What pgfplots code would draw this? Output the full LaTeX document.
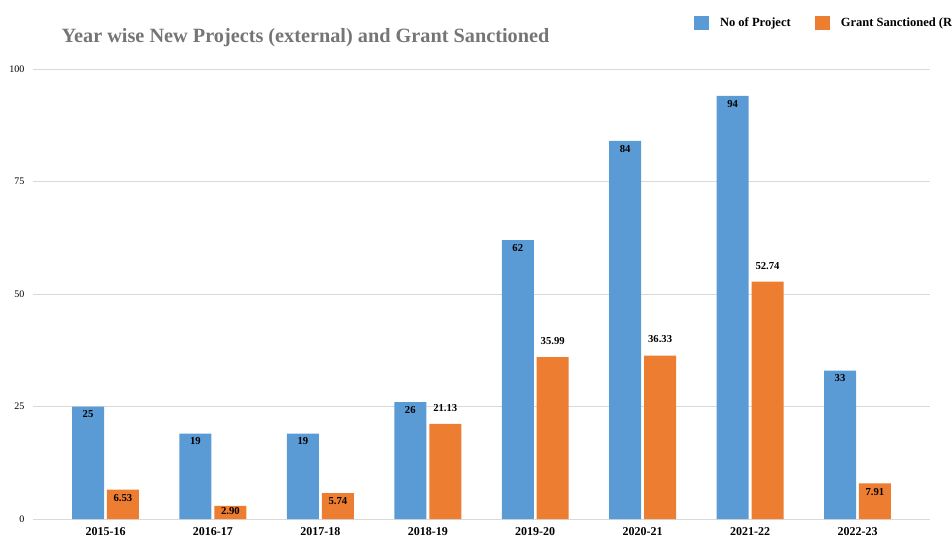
\documentclass[border=0pt]{standalone}
\usepackage{fontspec}
\setmainfont{Liberation Serif}
\usepackage{pgfplots}
\usepackage{pgfplotstable}
\pgfplotsset{compat=1.18}
\definecolor{barblue}{HTML}{5B9BD5}
\definecolor{barorange}{HTML}{ED7D31}
\definecolor{titlegray}{HTML}{757575}
\definecolor{gridgray}{HTML}{D9D9D9}
\definecolor{basegray}{HTML}{8C8C8C}
\pgfplotstableread{
x y dy
0 25 -6
1 19 -6
2 19 -6
3 26 -6
4 62 -6
5 84 -6
6 94 -6
7 33 -6
}\projects
\pgfplotstableread{
x y dy
0 6.53 -6
1 2.90 -4
2 5.74 -6
3 21.13 12
4 35.99 12
5 36.33 12
6 52.74 12
7 7.91 -6.5
}\grants
\begin{document}
\begin{tikzpicture}
\useasboundingbox (-24.75pt,-12.75pt) rectangle (689.25pt,389.25pt);
\clip (-24.75pt,-12.75pt) rectangle (689.25pt,389.25pt);
\begin{axis}[
  scale only axis,
  width=672.75pt, height=337.5pt,
  xmin=-0.675, xmax=7.675,
  ymin=0, ymax=100,
  ytick={0,25,50,75,100},
  xtick={0,...,7},
  xticklabels={2015-16,2016-17,2017-18,2018-19,2019-20,2020-21,2021-22,2022-23},
  /pgf/number format/assume math mode=true,
  axis line style={draw=none},
  major tick length=0pt,
  tick style={draw=none},
  ymajorgrids,
  major grid style={draw=gridgray, line width=0.7pt},
  extra y ticks={0},
  extra y tick labels={},
  extra y tick style={grid style={draw=basegray, line width=0.9pt}},
  yticklabel style={font=\fontsize{7.5}{9}\selectfont, text=black, xshift=-3pt},
  xticklabel style={font=\bfseries\fontsize{9}{10}\selectfont, text=black, yshift=-2.5pt},
  ybar, bar width=24pt,
  title={Year wise New Projects (external) and Grant Sanctioned},
  title style={font=\bfseries\fontsize{15.2}{17}\selectfont, text=titlegray, anchor=west, at={(axis description cs:0.0268,1.053)}},
  legend columns=2,
  legend image code/.code={\fill[#1] (0pt,-5.6pt) rectangle (11.25pt,5.6pt); \path (19.5pt,0pt);},
  legend style={draw=none, fill=none, inner sep=0pt, outer sep=0pt,
    nodes={inner sep=0pt, font=\bfseries\fontsize{9.4}{10}\selectfont, text=black},
    at={(axis description cs:0.7369,1.1022)}, anchor=west,
    /tikz/every even column/.append style={column sep=18pt}},
  nodes near coords,
  nodes near coords style={font=\bfseries\fontsize{8}{9}\selectfont, text=black, anchor=center},
  visualization depends on={\thisrow{dy}\as\dy},
  every node near coord/.append style={yshift=\dy pt},
  point meta=explicit symbolic,
]
\addplot[fill=barblue, draw=none, bar shift=-13.1pt] table[x=x, y=y, meta=y] {\projects};
\addlegendentry{No of Project}
\addplot[fill=barorange, draw=none, bar shift=13.1pt] table[x=x, y=y, meta=y] {\grants};
\addlegendentry{Grant Sanctioned (Rs. in Crore)}
\end{axis}
\end{tikzpicture}
\end{document}
